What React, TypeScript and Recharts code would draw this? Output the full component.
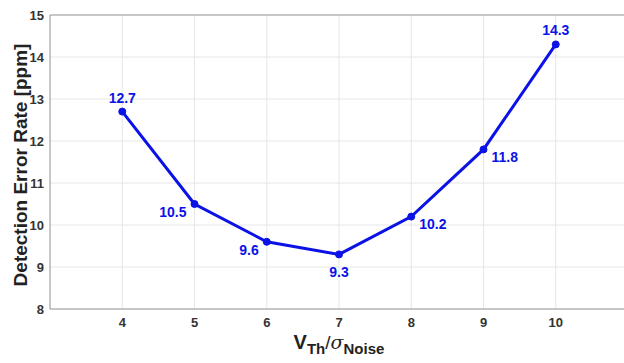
import React from 'react';
import {
  LineChart, Line, XAxis, YAxis, CartesianGrid, ReferenceLine, LabelList
} from 'recharts';

const ratios = [4, 5, 6, 7, 8, 9, 10];
const errorRates = [12.7, 10.5, 9.6, 9.3, 10.2, 11.8, 14.3];
const xTicks = [4, 5, 6, 7, 8, 9, 10];
const yTicks = [8, 9, 10, 11, 12, 13, 14, 15];

// where each value label sits relative to its point
const labelPlacement = ['top', 'bottomLeft', 'bottomLeft', 'bottom', 'bottomRight', 'bottomRight', 'top'];

const BLUE = '#0b12e6';
const AXIS = '#9a9a9a';
const FONT = '"Liberation Sans", Arial, sans-serif';

const data = ratios.map((r, i) => ({ ratio: r, rate: errorRates[i] }));

const ValueLabel = (props: any) => {
  const { x, y, value, index } = props;
  const pos = labelPlacement[index];
  let dx = 0, dy = -9, anchor = 'middle';
  if (pos === 'bottom') { dy = 19; }
  if (pos === 'bottomLeft') { dx = -8; dy = 9; anchor = 'end'; }
  if (pos === 'bottomRight') { dx = 8; dy = 9; anchor = 'start'; }
  return (
    <text x={x + dx} y={y + dy} textAnchor={anchor} fill={BLUE}
      fontFamily={FONT} fontWeight="bold" fontSize={14}
      dominantBaseline={pos === 'top' ? 'auto' : 'middle'}>
      {value.toFixed(1)}
    </text>
  );
};

const XTitle = (props: any) => {
  const { viewBox } = props;
  const cx = 339;
  const y = viewBox.y + viewBox.height - 14;
  return (
    <text x={cx} y={y} textAnchor="middle" fill="#222" fontFamily={FONT} fontWeight="bold" fontSize={20}>
      <tspan>V</tspan>
      <tspan fontSize={15} dy={5}>Th</tspan>
      <tspan fontSize={19} dy={-5} fontWeight="normal">/</tspan>
      <tspan fontSize={19} fontStyle="italic" fontWeight="normal" fontFamily="'DejaVu Serif', serif">σ</tspan>
      <tspan fontSize={15} dy={5}>Noise</tspan>
    </text>
  );
};

const YTitle = () => (
  <text x={22} y={165} transform="rotate(-90, 22, 165)" textAnchor="middle"
    dominantBaseline="middle" fill="#222" fontFamily={FONT} fontWeight="bold" fontSize={19}>
    Detection Error Rate [ppm]
  </text>
);

export default function App() {
  return (
    <div style={{ position: 'absolute', left: 0, top: 0, width: 624, height: 363, overflow: 'hidden', background: '#fff' }}>
      <LineChart width={640} height={363} data={data} margin={{ top: 15, right: 12, left: 0, bottom: 0 }}>
        <CartesianGrid stroke="#e6e6e6" />
        <XAxis dataKey="ratio" type="number" domain={[3, 11]} ticks={xTicks} height={54}
          axisLine={{ stroke: AXIS }} tickLine={false} tickSize={7}
          tick={{ fill: '#333', fontSize: 13, fontWeight: 'bold', fontFamily: FONT }}
          label={<XTitle />} />
        <YAxis type="number" domain={[8, 15]} ticks={yTicks} width={50}
          axisLine={{ stroke: AXIS }} tickLine={false} tickSize={4}
          tick={{ fill: '#333', fontSize: 13, fontWeight: 'bold', fontFamily: FONT }}
          label={<YTitle />} />
        <ReferenceLine y={15} stroke={AXIS} />
        <Line type="linear" dataKey="rate" stroke={BLUE} strokeWidth={3}
          dot={{ r: 3.5, fill: BLUE, stroke: BLUE, strokeWidth: 1 }} isAnimationActive={false}>
          <LabelList dataKey="rate" content={<ValueLabel />} />
        </Line>
      </LineChart>
    </div>
  );
}
